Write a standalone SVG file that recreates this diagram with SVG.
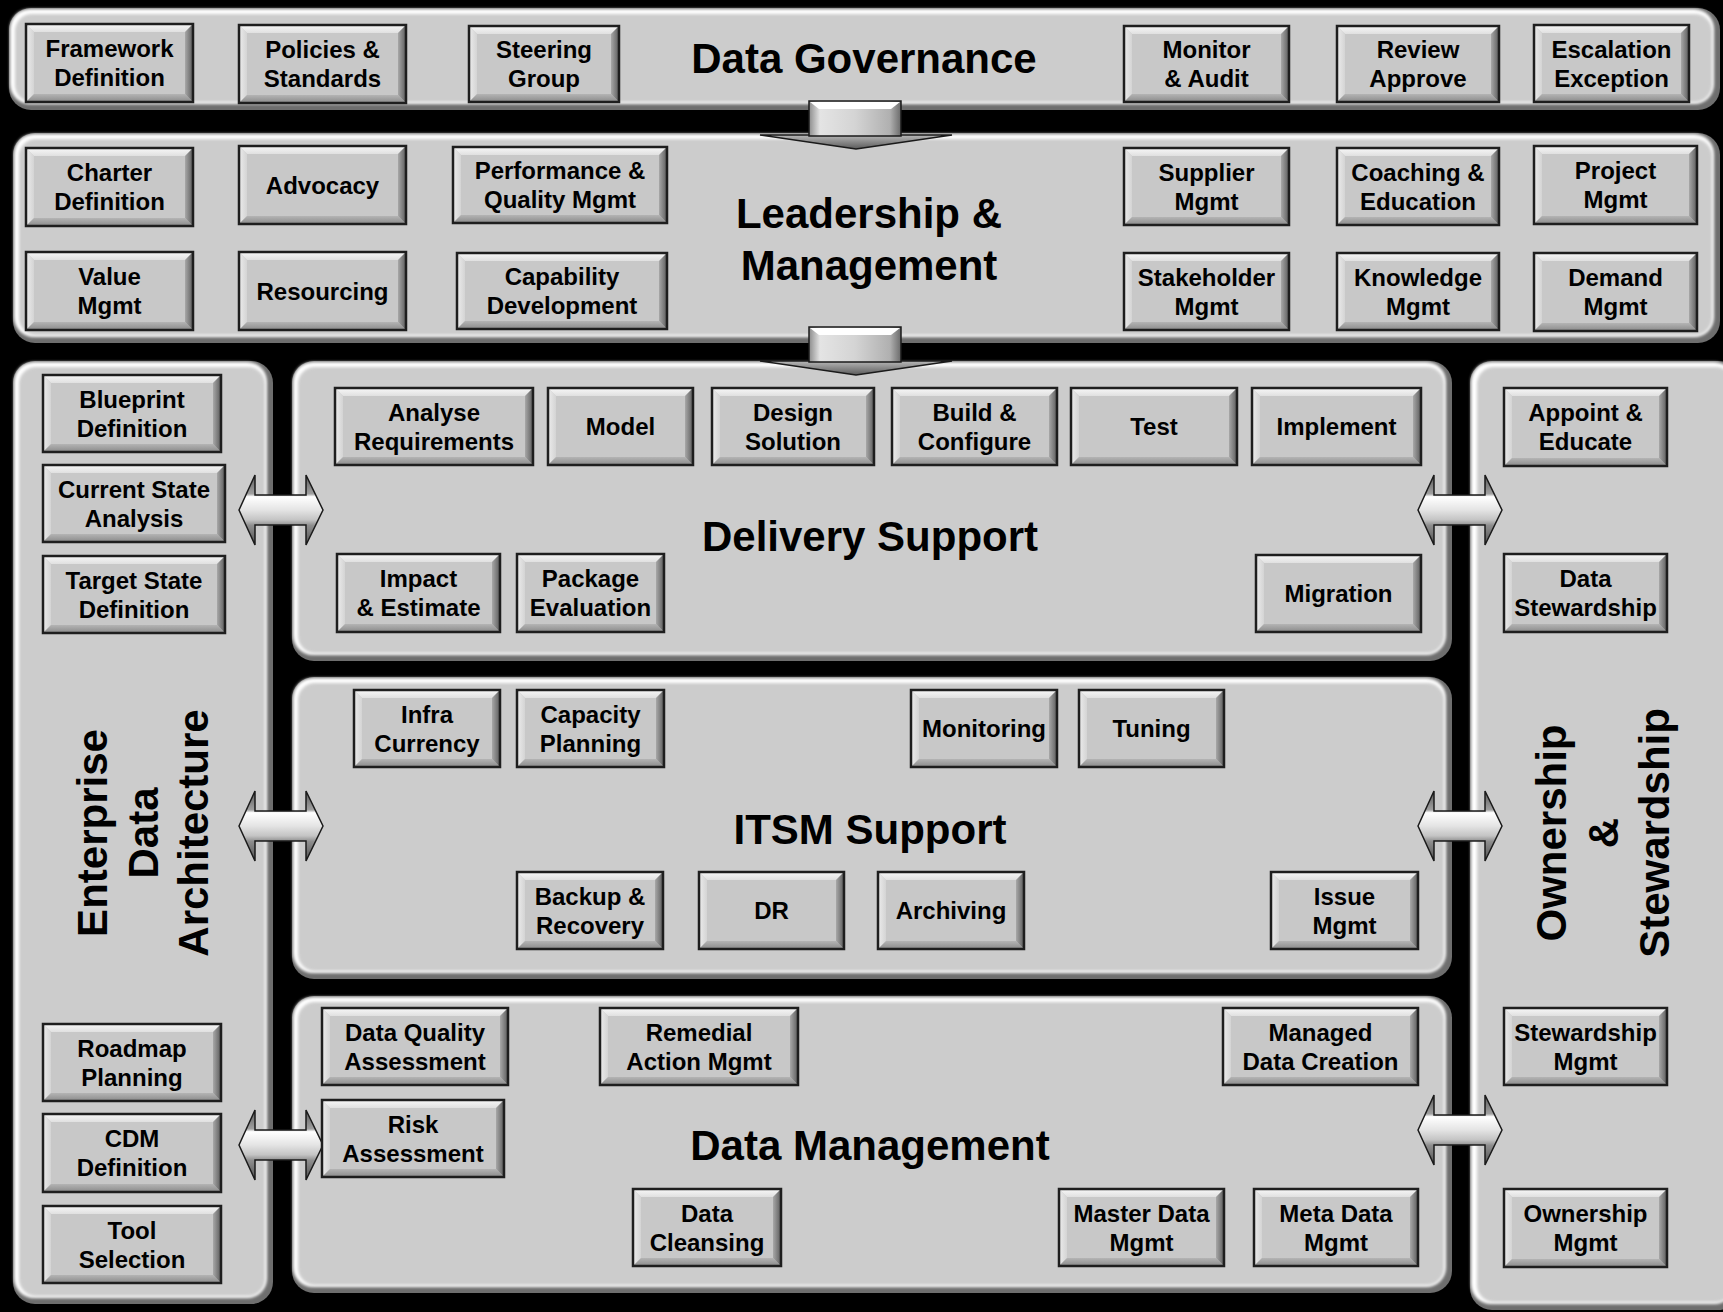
<svg xmlns="http://www.w3.org/2000/svg" xmlns:xlink="http://www.w3.org/1999/xlink" width="1723" height="1312" viewBox="0 0 1723 1312">
<defs>
<style>
.lbl{font-family:"Liberation Sans",Arial,sans-serif;font-weight:bold;font-size:24px;text-anchor:middle;fill:#000}
.ttl{font-family:"Liberation Sans",Arial,sans-serif;font-weight:bold;font-size:42px;text-anchor:middle;fill:#000}
.t{fill:url(#gT)}
.l{fill:url(#gL)}
.b{fill:url(#gB)}
.r{fill:url(#gR)}
.f{fill:#c8c8c8}
.o{fill:none;stroke:#1e1e1e;stroke-width:2.5}
.pd{fill:#6e6e6e}
.pl{fill:#ffffff;filter:url(#pb)}
.pf{fill:#cccccc;filter:url(#pb)}
.arr{stroke:#1a1a1a;stroke-width:1.5;stroke-linejoin:miter}
</style>
<filter id="pb" x="-5%" y="-5%" width="110%" height="110%"><feGaussianBlur stdDeviation="1.6"/></filter>
<linearGradient id="gT" x1="0" y1="0" x2="0" y2="1"><stop offset="0" stop-color="#f8f8f8"/><stop offset="1" stop-color="#e0e0e0"/></linearGradient>
<linearGradient id="gL" x1="0" y1="0" x2="1" y2="0"><stop offset="0" stop-color="#ececec"/><stop offset="1" stop-color="#d4d4d4"/></linearGradient>
<linearGradient id="gB" x1="0" y1="0" x2="0" y2="1"><stop offset="0" stop-color="#b4b4b4"/><stop offset="1" stop-color="#8a8a8a"/></linearGradient>
<linearGradient id="gR" x1="0" y1="0" x2="1" y2="0"><stop offset="0" stop-color="#a8a8a8"/><stop offset="1" stop-color="#5c5c5c"/></linearGradient>
<linearGradient id="gH" x1="0" y1="0" x2="0" y2="1"><stop offset="0" stop-color="#5a5a5a"/><stop offset="0.27" stop-color="#a0a0a0"/><stop offset="0.31" stop-color="#ffffff"/><stop offset="0.5" stop-color="#e4e4e4"/><stop offset="0.64" stop-color="#c4c4c4"/><stop offset="0.72" stop-color="#8e8e8e"/><stop offset="1" stop-color="#505050"/></linearGradient>
<linearGradient id="gDB" x1="0" y1="0" x2="1" y2="0"><stop offset="0" stop-color="#8c8c8c"/><stop offset="0.12" stop-color="#e4e4e4"/><stop offset="0.5" stop-color="#d4d4d4"/><stop offset="0.88" stop-color="#b0b0b0"/><stop offset="1" stop-color="#6a6a6a"/></linearGradient>
<linearGradient id="gDH" x1="0" y1="0" x2="0" y2="1"><stop offset="0" stop-color="#b8b8b8"/><stop offset="1" stop-color="#5a5a5a"/></linearGradient>
<path id="dbl" d="M0,0 L16,-35 L16,-15 L67,-15 L67,-35 L84,0 L67,35 L67,15 L16,15 L16,35 Z"/>
<g id="down">
<polygon class="arr" points="0,34 192,34 96,48" fill="url(#gDH)"/>
<rect class="arr" x="49" y="0" width="92" height="35" fill="url(#gDB)"/>
<polygon points="50,1 140,1 131,8 59,8" fill="#ffffff"/>
</g>
</defs>
<rect width="1723" height="1312" fill="#000"/>

<g id="panel-governance">
<rect class="pd" x="9" y="8" width="1711" height="102" rx="22"/>
<rect class="pl" x="10" y="9" width="1704" height="95" rx="20"/>
<rect class="pf" x="15" y="14" width="1697" height="88" rx="17"/>
<text class="ttl" x="864" y="73">Data Governance</text>
</g>
<g id="panel-leadership">
<rect class="pd" x="13" y="133" width="1707" height="210" rx="22"/>
<rect class="pl" x="14" y="134" width="1700" height="203" rx="20"/>
<rect class="pf" x="19" y="139" width="1693" height="196" rx="17"/>
<text class="ttl" x="869"><tspan x="869" y="228">Leadership &amp;</tspan><tspan x="869" y="280">Management</tspan></text>
</g>
<g id="panel-eda">
<rect class="pd" x="13" y="361" width="260" height="943" rx="22"/>
<rect class="pl" x="14" y="362" width="253" height="936" rx="20"/>
<rect class="pf" x="19" y="367" width="246" height="929" rx="17"/>
<text class="ttl" transform="translate(107,833) rotate(-90)">Enterprise</text>
<text class="ttl" transform="translate(158,833) rotate(-90)">Data</text>
<text class="ttl" transform="translate(208,833) rotate(-90)">Architecture</text>
</g>
<g id="panel-delivery">
<rect class="pd" x="292" y="361" width="1160" height="300" rx="22"/>
<rect class="pl" x="293" y="362" width="1153" height="293" rx="20"/>
<rect class="pf" x="298" y="367" width="1146" height="286" rx="17"/>
<text class="ttl" x="870" y="551">Delivery Support</text>
</g>
<g id="panel-itsm">
<rect class="pd" x="292" y="677" width="1160" height="302" rx="22"/>
<rect class="pl" x="293" y="678" width="1153" height="295" rx="20"/>
<rect class="pf" x="298" y="683" width="1146" height="288" rx="17"/>
<text class="ttl" x="870" y="844">ITSM Support</text>
</g>
<g id="panel-datamgmt">
<rect class="pd" x="292" y="996" width="1160" height="297" rx="22"/>
<rect class="pl" x="293" y="997" width="1153" height="290" rx="20"/>
<rect class="pf" x="298" y="1002" width="1146" height="283" rx="17"/>
<text class="ttl" x="870" y="1160">Data Management</text>
</g>
<g id="panel-ownership">
<rect class="pd" x="1470" y="361" width="270" height="949" rx="22"/>
<rect class="pl" x="1471" y="362" width="263" height="942" rx="20"/>
<rect class="pf" x="1477" y="367" width="256" height="935" rx="17"/>
<text class="ttl" transform="translate(1566,833) rotate(-90)">Ownership</text>
<text class="ttl" transform="translate(1618,833) rotate(-90)">&amp;</text>
<text class="ttl" transform="translate(1669,833) rotate(-90)">Stewardship</text>
</g>

<g id="connectors">
<use xlink:href="#down" href="#down" transform="translate(760,101)"/>
<use xlink:href="#down" href="#down" transform="translate(760,327)"/>
<use class="arr" xlink:href="#dbl" href="#dbl" transform="translate(239,510)" fill="url(#gH)"/>
<use class="arr" xlink:href="#dbl" href="#dbl" transform="translate(239,826)" fill="url(#gH)"/>
<use class="arr" xlink:href="#dbl" href="#dbl" transform="translate(239,1145)" fill="url(#gH)"/>
<use class="arr" xlink:href="#dbl" href="#dbl" transform="translate(1418,510)" fill="url(#gH)"/>
<use class="arr" xlink:href="#dbl" href="#dbl" transform="translate(1418,826)" fill="url(#gH)"/>
<use class="arr" xlink:href="#dbl" href="#dbl" transform="translate(1418,1130)" fill="url(#gH)"/>
</g>

<!-- Governance boxes -->
<g id="framework-definition" transform="translate(26,24)"><polygon class="t" points="0,0 167,0 159,8 8,8"/><polygon class="l" points="0,0 8,8 8,70 0,78"/><polygon class="b" points="0,78 8,70 159,70 167,78"/><polygon class="r" points="167,0 167,78 159,70 159,8"/><rect class="f" x="8" y="8" width="151" height="62"/><rect class="o" width="167" height="78"/><text class="lbl"><tspan x="83.5" y="33">Framework</tspan><tspan x="83.5" y="62">Definition</tspan></text></g>
<g id="policies-standards" transform="translate(239,25)"><polygon class="t" points="0,0 167,0 159,8 8,8"/><polygon class="l" points="0,0 8,8 8,70 0,78"/><polygon class="b" points="0,78 8,70 159,70 167,78"/><polygon class="r" points="167,0 167,78 159,70 159,8"/><rect class="f" x="8" y="8" width="151" height="62"/><rect class="o" width="167" height="78"/><text class="lbl"><tspan x="83.5" y="33">Policies &amp;</tspan><tspan x="83.5" y="62">Standards</tspan></text></g>
<g id="steering-group" transform="translate(469,26)"><polygon class="t" points="0,0 150,0 142,8 8,8"/><polygon class="l" points="0,0 8,8 8,68 0,76"/><polygon class="b" points="0,76 8,68 142,68 150,76"/><polygon class="r" points="150,0 150,76 142,68 142,8"/><rect class="f" x="8" y="8" width="134" height="60"/><rect class="o" width="150" height="76"/><text class="lbl"><tspan x="75" y="32">Steering</tspan><tspan x="75" y="61">Group</tspan></text></g>
<g id="monitor-audit" transform="translate(1124,26)"><polygon class="t" points="0,0 165,0 157,8 8,8"/><polygon class="l" points="0,0 8,8 8,68 0,76"/><polygon class="b" points="0,76 8,68 157,68 165,76"/><polygon class="r" points="165,0 165,76 157,68 157,8"/><rect class="f" x="8" y="8" width="149" height="60"/><rect class="o" width="165" height="76"/><text class="lbl"><tspan x="82.5" y="32">Monitor</tspan><tspan x="82.5" y="61">&amp; Audit</tspan></text></g>
<g id="review-approve" transform="translate(1337,26)"><polygon class="t" points="0,0 162,0 154,8 8,8"/><polygon class="l" points="0,0 8,8 8,68 0,76"/><polygon class="b" points="0,76 8,68 154,68 162,76"/><polygon class="r" points="162,0 162,76 154,68 154,8"/><rect class="f" x="8" y="8" width="146" height="60"/><rect class="o" width="162" height="76"/><text class="lbl"><tspan x="81" y="32">Review</tspan><tspan x="81" y="61">Approve</tspan></text></g>
<g id="escalation-exception" transform="translate(1534,25)"><polygon class="t" points="0,0 155,0 147,8 8,8"/><polygon class="l" points="0,0 8,8 8,69 0,77"/><polygon class="b" points="0,77 8,69 147,69 155,77"/><polygon class="r" points="155,0 155,77 147,69 147,8"/><rect class="f" x="8" y="8" width="139" height="61"/><rect class="o" width="155" height="77"/><text class="lbl"><tspan x="77.5" y="33">Escalation</tspan><tspan x="77.5" y="61.5">Exception</tspan></text></g>

<!-- Leadership boxes -->
<g id="charter-definition" transform="translate(26,148)"><polygon class="t" points="0,0 167,0 159,8 8,8"/><polygon class="l" points="0,0 8,8 8,70 0,78"/><polygon class="b" points="0,78 8,70 159,70 167,78"/><polygon class="r" points="167,0 167,78 159,70 159,8"/><rect class="f" x="8" y="8" width="151" height="62"/><rect class="o" width="167" height="78"/><text class="lbl"><tspan x="83.5" y="33">Charter</tspan><tspan x="83.5" y="62">Definition</tspan></text></g>
<g id="advocacy" transform="translate(239,146)"><polygon class="t" points="0,0 167,0 159,8 8,8"/><polygon class="l" points="0,0 8,8 8,70 0,78"/><polygon class="b" points="0,78 8,70 159,70 167,78"/><polygon class="r" points="167,0 167,78 159,70 159,8"/><rect class="f" x="8" y="8" width="151" height="62"/><rect class="o" width="167" height="78"/><text class="lbl" x="83.5" y="48">Advocacy</text></g>
<g id="performance-quality" transform="translate(453,147)"><polygon class="t" points="0,0 214,0 206,8 8,8"/><polygon class="l" points="0,0 8,8 8,68 0,76"/><polygon class="b" points="0,76 8,68 206,68 214,76"/><polygon class="r" points="214,0 214,76 206,68 206,8"/><rect class="f" x="8" y="8" width="198" height="60"/><rect class="o" width="214" height="76"/><text class="lbl"><tspan x="107" y="32">Performance &amp;</tspan><tspan x="107" y="61">Quality Mgmt</tspan></text></g>
<g id="supplier-mgmt" transform="translate(1124,148)"><polygon class="t" points="0,0 165,0 157,8 8,8"/><polygon class="l" points="0,0 8,8 8,69 0,77"/><polygon class="b" points="0,77 8,69 157,69 165,77"/><polygon class="r" points="165,0 165,77 157,69 157,8"/><rect class="f" x="8" y="8" width="149" height="61"/><rect class="o" width="165" height="77"/><text class="lbl"><tspan x="82.5" y="33">Supplier</tspan><tspan x="82.5" y="61.5">Mgmt</tspan></text></g>
<g id="coaching-education" transform="translate(1337,148)"><polygon class="t" points="0,0 162,0 154,8 8,8"/><polygon class="l" points="0,0 8,8 8,69 0,77"/><polygon class="b" points="0,77 8,69 154,69 162,77"/><polygon class="r" points="162,0 162,77 154,69 154,8"/><rect class="f" x="8" y="8" width="146" height="61"/><rect class="o" width="162" height="77"/><text class="lbl"><tspan x="81" y="33">Coaching &amp;</tspan><tspan x="81" y="61.5">Education</tspan></text></g>
<g id="project-mgmt" transform="translate(1534,146)"><polygon class="t" points="0,0 163,0 155,8 8,8"/><polygon class="l" points="0,0 8,8 8,70 0,78"/><polygon class="b" points="0,78 8,70 155,70 163,78"/><polygon class="r" points="163,0 163,78 155,70 155,8"/><rect class="f" x="8" y="8" width="147" height="62"/><rect class="o" width="163" height="78"/><text class="lbl"><tspan x="81.5" y="33">Project</tspan><tspan x="81.5" y="62">Mgmt</tspan></text></g>
<g id="value-mgmt" transform="translate(26,252)"><polygon class="t" points="0,0 167,0 159,8 8,8"/><polygon class="l" points="0,0 8,8 8,70 0,78"/><polygon class="b" points="0,78 8,70 159,70 167,78"/><polygon class="r" points="167,0 167,78 159,70 159,8"/><rect class="f" x="8" y="8" width="151" height="62"/><rect class="o" width="167" height="78"/><text class="lbl"><tspan x="83.5" y="33">Value</tspan><tspan x="83.5" y="62">Mgmt</tspan></text></g>
<g id="resourcing" transform="translate(239,252)"><polygon class="t" points="0,0 167,0 159,8 8,8"/><polygon class="l" points="0,0 8,8 8,70 0,78"/><polygon class="b" points="0,78 8,70 159,70 167,78"/><polygon class="r" points="167,0 167,78 159,70 159,8"/><rect class="f" x="8" y="8" width="151" height="62"/><rect class="o" width="167" height="78"/><text class="lbl" x="83.5" y="48">Resourcing</text></g>
<g id="capability-development" transform="translate(457,253)"><polygon class="t" points="0,0 210,0 202,8 8,8"/><polygon class="l" points="0,0 8,8 8,68 0,76"/><polygon class="b" points="0,76 8,68 202,68 210,76"/><polygon class="r" points="210,0 210,76 202,68 202,8"/><rect class="f" x="8" y="8" width="194" height="60"/><rect class="o" width="210" height="76"/><text class="lbl"><tspan x="105" y="32">Capability</tspan><tspan x="105" y="61">Development</tspan></text></g>
<g id="stakeholder-mgmt" transform="translate(1124,253)"><polygon class="t" points="0,0 165,0 157,8 8,8"/><polygon class="l" points="0,0 8,8 8,69 0,77"/><polygon class="b" points="0,77 8,69 157,69 165,77"/><polygon class="r" points="165,0 165,77 157,69 157,8"/><rect class="f" x="8" y="8" width="149" height="61"/><rect class="o" width="165" height="77"/><text class="lbl"><tspan x="82.5" y="33">Stakeholder</tspan><tspan x="82.5" y="61.5">Mgmt</tspan></text></g>
<g id="knowledge-mgmt" transform="translate(1337,253)"><polygon class="t" points="0,0 162,0 154,8 8,8"/><polygon class="l" points="0,0 8,8 8,69 0,77"/><polygon class="b" points="0,77 8,69 154,69 162,77"/><polygon class="r" points="162,0 162,77 154,69 154,8"/><rect class="f" x="8" y="8" width="146" height="61"/><rect class="o" width="162" height="77"/><text class="lbl"><tspan x="81" y="33">Knowledge</tspan><tspan x="81" y="61.5">Mgmt</tspan></text></g>
<g id="demand-mgmt" transform="translate(1534,253)"><polygon class="t" points="0,0 163,0 155,8 8,8"/><polygon class="l" points="0,0 8,8 8,70 0,78"/><polygon class="b" points="0,78 8,70 155,70 163,78"/><polygon class="r" points="163,0 163,78 155,70 155,8"/><rect class="f" x="8" y="8" width="147" height="62"/><rect class="o" width="163" height="78"/><text class="lbl"><tspan x="81.5" y="33">Demand</tspan><tspan x="81.5" y="62">Mgmt</tspan></text></g>

<!-- EDA boxes -->
<g id="blueprint-definition" transform="translate(43,375)"><polygon class="t" points="0,0 178,0 170,8 8,8"/><polygon class="l" points="0,0 8,8 8,69 0,77"/><polygon class="b" points="0,77 8,69 170,69 178,77"/><polygon class="r" points="178,0 178,77 170,69 170,8"/><rect class="f" x="8" y="8" width="162" height="61"/><rect class="o" width="178" height="77"/><text class="lbl"><tspan x="89" y="33">Blueprint</tspan><tspan x="89" y="61.5">Definition</tspan></text></g>
<g id="current-state-analysis" transform="translate(43,465)"><polygon class="t" points="0,0 182,0 174,8 8,8"/><polygon class="l" points="0,0 8,8 8,69 0,77"/><polygon class="b" points="0,77 8,69 174,69 182,77"/><polygon class="r" points="182,0 182,77 174,69 174,8"/><rect class="f" x="8" y="8" width="166" height="61"/><rect class="o" width="182" height="77"/><text class="lbl"><tspan x="91" y="33">Current State</tspan><tspan x="91" y="61.5">Analysis</tspan></text></g>
<g id="target-state-definition" transform="translate(43,556)"><polygon class="t" points="0,0 182,0 174,8 8,8"/><polygon class="l" points="0,0 8,8 8,69 0,77"/><polygon class="b" points="0,77 8,69 174,69 182,77"/><polygon class="r" points="182,0 182,77 174,69 174,8"/><rect class="f" x="8" y="8" width="166" height="61"/><rect class="o" width="182" height="77"/><text class="lbl"><tspan x="91" y="33">Target State</tspan><tspan x="91" y="61.5">Definition</tspan></text></g>
<g id="roadmap-planning" transform="translate(43,1024)"><polygon class="t" points="0,0 178,0 170,8 8,8"/><polygon class="l" points="0,0 8,8 8,69 0,77"/><polygon class="b" points="0,77 8,69 170,69 178,77"/><polygon class="r" points="178,0 178,77 170,69 170,8"/><rect class="f" x="8" y="8" width="162" height="61"/><rect class="o" width="178" height="77"/><text class="lbl"><tspan x="89" y="33">Roadmap</tspan><tspan x="89" y="61.5">Planning</tspan></text></g>
<g id="cdm-definition" transform="translate(43,1114)"><polygon class="t" points="0,0 178,0 170,8 8,8"/><polygon class="l" points="0,0 8,8 8,70 0,78"/><polygon class="b" points="0,78 8,70 170,70 178,78"/><polygon class="r" points="178,0 178,78 170,70 170,8"/><rect class="f" x="8" y="8" width="162" height="62"/><rect class="o" width="178" height="78"/><text class="lbl"><tspan x="89" y="33">CDM</tspan><tspan x="89" y="62">Definition</tspan></text></g>
<g id="tool-selection" transform="translate(43,1206)"><polygon class="t" points="0,0 178,0 170,8 8,8"/><polygon class="l" points="0,0 8,8 8,69 0,77"/><polygon class="b" points="0,77 8,69 170,69 178,77"/><polygon class="r" points="178,0 178,77 170,69 170,8"/><rect class="f" x="8" y="8" width="162" height="61"/><rect class="o" width="178" height="77"/><text class="lbl"><tspan x="89" y="33">Tool</tspan><tspan x="89" y="61.5">Selection</tspan></text></g>

<!-- Delivery boxes -->
<g id="analyse-requirements" transform="translate(335,388)"><polygon class="t" points="0,0 198,0 190,8 8,8"/><polygon class="l" points="0,0 8,8 8,69 0,77"/><polygon class="b" points="0,77 8,69 190,69 198,77"/><polygon class="r" points="198,0 198,77 190,69 190,8"/><rect class="f" x="8" y="8" width="182" height="61"/><rect class="o" width="198" height="77"/><text class="lbl"><tspan x="99" y="33">Analyse</tspan><tspan x="99" y="61.5">Requirements</tspan></text></g>
<g id="model" transform="translate(548,388)"><polygon class="t" points="0,0 145,0 137,8 8,8"/><polygon class="l" points="0,0 8,8 8,69 0,77"/><polygon class="b" points="0,77 8,69 137,69 145,77"/><polygon class="r" points="145,0 145,77 137,69 137,8"/><rect class="f" x="8" y="8" width="129" height="61"/><rect class="o" width="145" height="77"/><text class="lbl" x="72.5" y="47">Model</text></g>
<g id="design-solution" transform="translate(712,388)"><polygon class="t" points="0,0 162,0 154,8 8,8"/><polygon class="l" points="0,0 8,8 8,69 0,77"/><polygon class="b" points="0,77 8,69 154,69 162,77"/><polygon class="r" points="162,0 162,77 154,69 154,8"/><rect class="f" x="8" y="8" width="146" height="61"/><rect class="o" width="162" height="77"/><text class="lbl"><tspan x="81" y="33">Design</tspan><tspan x="81" y="61.5">Solution</tspan></text></g>
<g id="build-configure" transform="translate(892,388)"><polygon class="t" points="0,0 165,0 157,8 8,8"/><polygon class="l" points="0,0 8,8 8,69 0,77"/><polygon class="b" points="0,77 8,69 157,69 165,77"/><polygon class="r" points="165,0 165,77 157,69 157,8"/><rect class="f" x="8" y="8" width="149" height="61"/><rect class="o" width="165" height="77"/><text class="lbl"><tspan x="82.5" y="33">Build &amp;</tspan><tspan x="82.5" y="61.5">Configure</tspan></text></g>
<g id="test" transform="translate(1071,388)"><polygon class="t" points="0,0 166,0 158,8 8,8"/><polygon class="l" points="0,0 8,8 8,69 0,77"/><polygon class="b" points="0,77 8,69 158,69 166,77"/><polygon class="r" points="166,0 166,77 158,69 158,8"/><rect class="f" x="8" y="8" width="150" height="61"/><rect class="o" width="166" height="77"/><text class="lbl" x="83" y="47">Test</text></g>
<g id="implement" transform="translate(1252,388)"><polygon class="t" points="0,0 169,0 161,8 8,8"/><polygon class="l" points="0,0 8,8 8,69 0,77"/><polygon class="b" points="0,77 8,69 161,69 169,77"/><polygon class="r" points="169,0 169,77 161,69 161,8"/><rect class="f" x="8" y="8" width="153" height="61"/><rect class="o" width="169" height="77"/><text class="lbl" x="84.5" y="47">Implement</text></g>
<g id="impact-estimate" transform="translate(337,554)"><polygon class="t" points="0,0 163,0 155,8 8,8"/><polygon class="l" points="0,0 8,8 8,70 0,78"/><polygon class="b" points="0,78 8,70 155,70 163,78"/><polygon class="r" points="163,0 163,78 155,70 155,8"/><rect class="f" x="8" y="8" width="147" height="62"/><rect class="o" width="163" height="78"/><text class="lbl"><tspan x="81.5" y="33">Impact</tspan><tspan x="81.5" y="62">&amp; Estimate</tspan></text></g>
<g id="package-evaluation" transform="translate(517,554)"><polygon class="t" points="0,0 147,0 139,8 8,8"/><polygon class="l" points="0,0 8,8 8,70 0,78"/><polygon class="b" points="0,78 8,70 139,70 147,78"/><polygon class="r" points="147,0 147,78 139,70 139,8"/><rect class="f" x="8" y="8" width="131" height="62"/><rect class="o" width="147" height="78"/><text class="lbl"><tspan x="73.5" y="33">Package</tspan><tspan x="73.5" y="62">Evaluation</tspan></text></g>
<g id="migration" transform="translate(1256,555)"><polygon class="t" points="0,0 165,0 157,8 8,8"/><polygon class="l" points="0,0 8,8 8,69 0,77"/><polygon class="b" points="0,77 8,69 157,69 165,77"/><polygon class="r" points="165,0 165,77 157,69 157,8"/><rect class="f" x="8" y="8" width="149" height="61"/><rect class="o" width="165" height="77"/><text class="lbl" x="82.5" y="47">Migration</text></g>

<!-- ITSM boxes -->
<g id="infra-currency" transform="translate(354,690)"><polygon class="t" points="0,0 146,0 138,8 8,8"/><polygon class="l" points="0,0 8,8 8,69 0,77"/><polygon class="b" points="0,77 8,69 138,69 146,77"/><polygon class="r" points="146,0 146,77 138,69 138,8"/><rect class="f" x="8" y="8" width="130" height="61"/><rect class="o" width="146" height="77"/><text class="lbl"><tspan x="73" y="33">Infra</tspan><tspan x="73" y="61.5">Currency</tspan></text></g>
<g id="capacity-planning" transform="translate(517,690)"><polygon class="t" points="0,0 147,0 139,8 8,8"/><polygon class="l" points="0,0 8,8 8,69 0,77"/><polygon class="b" points="0,77 8,69 139,69 147,77"/><polygon class="r" points="147,0 147,77 139,69 139,8"/><rect class="f" x="8" y="8" width="131" height="61"/><rect class="o" width="147" height="77"/><text class="lbl"><tspan x="73.5" y="33">Capacity</tspan><tspan x="73.5" y="61.5">Planning</tspan></text></g>
<g id="monitoring" transform="translate(911,690)"><polygon class="t" points="0,0 146,0 138,8 8,8"/><polygon class="l" points="0,0 8,8 8,69 0,77"/><polygon class="b" points="0,77 8,69 138,69 146,77"/><polygon class="r" points="146,0 146,77 138,69 138,8"/><rect class="f" x="8" y="8" width="130" height="61"/><rect class="o" width="146" height="77"/><text class="lbl" x="73" y="47">Monitoring</text></g>
<g id="tuning" transform="translate(1079,690)"><polygon class="t" points="0,0 145,0 137,8 8,8"/><polygon class="l" points="0,0 8,8 8,69 0,77"/><polygon class="b" points="0,77 8,69 137,69 145,77"/><polygon class="r" points="145,0 145,77 137,69 137,8"/><rect class="f" x="8" y="8" width="129" height="61"/><rect class="o" width="145" height="77"/><text class="lbl" x="72.5" y="47">Tuning</text></g>
<g id="backup-recovery" transform="translate(517,872)"><polygon class="t" points="0,0 146,0 138,8 8,8"/><polygon class="l" points="0,0 8,8 8,69 0,77"/><polygon class="b" points="0,77 8,69 138,69 146,77"/><polygon class="r" points="146,0 146,77 138,69 138,8"/><rect class="f" x="8" y="8" width="130" height="61"/><rect class="o" width="146" height="77"/><text class="lbl"><tspan x="73" y="33">Backup &amp;</tspan><tspan x="73" y="61.5">Recovery</tspan></text></g>
<g id="dr" transform="translate(699,872)"><polygon class="t" points="0,0 145,0 137,8 8,8"/><polygon class="l" points="0,0 8,8 8,69 0,77"/><polygon class="b" points="0,77 8,69 137,69 145,77"/><polygon class="r" points="145,0 145,77 137,69 137,8"/><rect class="f" x="8" y="8" width="129" height="61"/><rect class="o" width="145" height="77"/><text class="lbl" x="72.5" y="47">DR</text></g>
<g id="archiving" transform="translate(878,872)"><polygon class="t" points="0,0 146,0 138,8 8,8"/><polygon class="l" points="0,0 8,8 8,69 0,77"/><polygon class="b" points="0,77 8,69 138,69 146,77"/><polygon class="r" points="146,0 146,77 138,69 138,8"/><rect class="f" x="8" y="8" width="130" height="61"/><rect class="o" width="146" height="77"/><text class="lbl" x="73" y="47">Archiving</text></g>
<g id="issue-mgmt" transform="translate(1271,872)"><polygon class="t" points="0,0 147,0 139,8 8,8"/><polygon class="l" points="0,0 8,8 8,69 0,77"/><polygon class="b" points="0,77 8,69 139,69 147,77"/><polygon class="r" points="147,0 147,77 139,69 139,8"/><rect class="f" x="8" y="8" width="131" height="61"/><rect class="o" width="147" height="77"/><text class="lbl"><tspan x="73.5" y="33">Issue</tspan><tspan x="73.5" y="61.5">Mgmt</tspan></text></g>

<!-- Data Management boxes -->
<g id="data-quality-assessment" transform="translate(322,1008)"><polygon class="t" points="0,0 186,0 178,8 8,8"/><polygon class="l" points="0,0 8,8 8,69 0,77"/><polygon class="b" points="0,77 8,69 178,69 186,77"/><polygon class="r" points="186,0 186,77 178,69 178,8"/><rect class="f" x="8" y="8" width="170" height="61"/><rect class="o" width="186" height="77"/><text class="lbl"><tspan x="93" y="33">Data Quality</tspan><tspan x="93" y="61.5">Assessment</tspan></text></g>
<g id="remedial-action" transform="translate(600,1008)"><polygon class="t" points="0,0 198,0 190,8 8,8"/><polygon class="l" points="0,0 8,8 8,69 0,77"/><polygon class="b" points="0,77 8,69 190,69 198,77"/><polygon class="r" points="198,0 198,77 190,69 190,8"/><rect class="f" x="8" y="8" width="182" height="61"/><rect class="o" width="198" height="77"/><text class="lbl"><tspan x="99" y="33">Remedial</tspan><tspan x="99" y="61.5">Action Mgmt</tspan></text></g>
<g id="managed-data-creation" transform="translate(1223,1008)"><polygon class="t" points="0,0 195,0 187,8 8,8"/><polygon class="l" points="0,0 8,8 8,69 0,77"/><polygon class="b" points="0,77 8,69 187,69 195,77"/><polygon class="r" points="195,0 195,77 187,69 187,8"/><rect class="f" x="8" y="8" width="179" height="61"/><rect class="o" width="195" height="77"/><text class="lbl"><tspan x="97.5" y="33">Managed</tspan><tspan x="97.5" y="61.5">Data Creation</tspan></text></g>
<g id="risk-assessment" transform="translate(322,1100)"><polygon class="t" points="0,0 182,0 174,8 8,8"/><polygon class="l" points="0,0 8,8 8,69 0,77"/><polygon class="b" points="0,77 8,69 174,69 182,77"/><polygon class="r" points="182,0 182,77 174,69 174,8"/><rect class="f" x="8" y="8" width="166" height="61"/><rect class="o" width="182" height="77"/><text class="lbl"><tspan x="91" y="33">Risk</tspan><tspan x="91" y="61.5">Assessment</tspan></text></g>
<g id="data-cleansing" transform="translate(633,1189)"><polygon class="t" points="0,0 148,0 140,8 8,8"/><polygon class="l" points="0,0 8,8 8,69 0,77"/><polygon class="b" points="0,77 8,69 140,69 148,77"/><polygon class="r" points="148,0 148,77 140,69 140,8"/><rect class="f" x="8" y="8" width="132" height="61"/><rect class="o" width="148" height="77"/><text class="lbl"><tspan x="74" y="33">Data</tspan><tspan x="74" y="61.5">Cleansing</tspan></text></g>
<g id="master-data-mgmt" transform="translate(1059,1189)"><polygon class="t" points="0,0 165,0 157,8 8,8"/><polygon class="l" points="0,0 8,8 8,69 0,77"/><polygon class="b" points="0,77 8,69 157,69 165,77"/><polygon class="r" points="165,0 165,77 157,69 157,8"/><rect class="f" x="8" y="8" width="149" height="61"/><rect class="o" width="165" height="77"/><text class="lbl"><tspan x="82.5" y="33">Master Data</tspan><tspan x="82.5" y="61.5">Mgmt</tspan></text></g>
<g id="meta-data-mgmt" transform="translate(1254,1189)"><polygon class="t" points="0,0 164,0 156,8 8,8"/><polygon class="l" points="0,0 8,8 8,69 0,77"/><polygon class="b" points="0,77 8,69 156,69 164,77"/><polygon class="r" points="164,0 164,77 156,69 156,8"/><rect class="f" x="8" y="8" width="148" height="61"/><rect class="o" width="164" height="77"/><text class="lbl"><tspan x="82" y="33">Meta Data</tspan><tspan x="82" y="61.5">Mgmt</tspan></text></g>

<!-- Ownership boxes -->
<g id="appoint-educate" transform="translate(1504,388)"><polygon class="t" points="0,0 163,0 155,8 8,8"/><polygon class="l" points="0,0 8,8 8,70 0,78"/><polygon class="b" points="0,78 8,70 155,70 163,78"/><polygon class="r" points="163,0 163,78 155,70 155,8"/><rect class="f" x="8" y="8" width="147" height="62"/><rect class="o" width="163" height="78"/><text class="lbl"><tspan x="81.5" y="33">Appoint &amp;</tspan><tspan x="81.5" y="62">Educate</tspan></text></g>
<g id="data-stewardship" transform="translate(1504,554)"><polygon class="t" points="0,0 163,0 155,8 8,8"/><polygon class="l" points="0,0 8,8 8,70 0,78"/><polygon class="b" points="0,78 8,70 155,70 163,78"/><polygon class="r" points="163,0 163,78 155,70 155,8"/><rect class="f" x="8" y="8" width="147" height="62"/><rect class="o" width="163" height="78"/><text class="lbl"><tspan x="81.5" y="33">Data</tspan><tspan x="81.5" y="62">Stewardship</tspan></text></g>
<g id="stewardship-mgmt" transform="translate(1504,1008)"><polygon class="t" points="0,0 163,0 155,8 8,8"/><polygon class="l" points="0,0 8,8 8,69 0,77"/><polygon class="b" points="0,77 8,69 155,69 163,77"/><polygon class="r" points="163,0 163,77 155,69 155,8"/><rect class="f" x="8" y="8" width="147" height="61"/><rect class="o" width="163" height="77"/><text class="lbl"><tspan x="81.5" y="33">Stewardship</tspan><tspan x="81.5" y="61.5">Mgmt</tspan></text></g>
<g id="ownership-mgmt" transform="translate(1504,1189)"><polygon class="t" points="0,0 163,0 155,8 8,8"/><polygon class="l" points="0,0 8,8 8,70 0,78"/><polygon class="b" points="0,78 8,70 155,70 163,78"/><polygon class="r" points="163,0 163,78 155,70 155,8"/><rect class="f" x="8" y="8" width="147" height="62"/><rect class="o" width="163" height="78"/><text class="lbl"><tspan x="81.5" y="33">Ownership</tspan><tspan x="81.5" y="62">Mgmt</tspan></text></g>
</svg>
